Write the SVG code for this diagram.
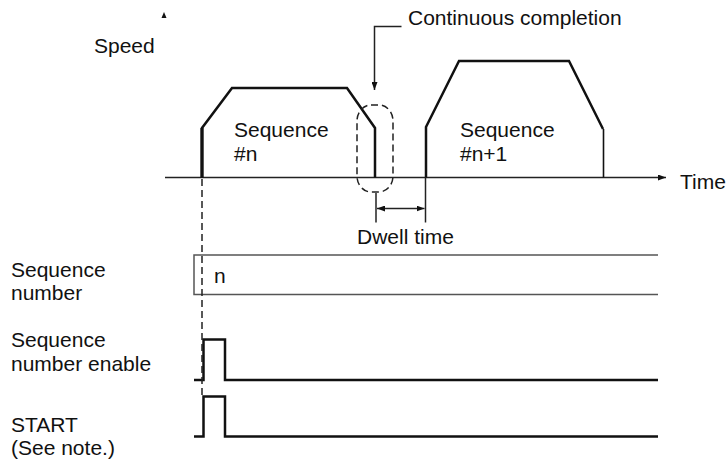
<svg xmlns="http://www.w3.org/2000/svg" width="727" height="459" viewBox="0 0 727 459">
<style>
text{font-family:"Liberation Sans",Arial,sans-serif;font-size:21px;fill:#111}
.thin{stroke:#222;stroke-width:1.5;fill:none}
.prof{stroke:#111;stroke-width:2.5;fill:none;stroke-linejoin:miter}
.sig{stroke:#111;stroke-width:2.5;fill:none}
.dash{stroke:#222;stroke-width:1.5;fill:none;stroke-dasharray:7,4}
.box{stroke:#555;stroke-width:1.5;fill:none}
</style>
<defs>
<marker id="ah" markerWidth="8" markerHeight="6" refX="8" refY="3" orient="auto" markerUnits="userSpaceOnUse">
<path d="M0,0 L8,3 L0,6 z" fill="#111"/>
</marker>
</defs>
<g id="labels">
<text x="94" y="52.5">Speed</text>
<text x="408" y="25">Continuous completion</text>
<text x="680" y="188.5">Time</text>
<text x="357" y="244">Dwell time</text>
<text x="11" y="277">Sequence</text>
<text x="11" y="300">number</text>
<text x="11" y="347">Sequence</text>
<text x="11" y="371">number enable</text>
<text x="11" y="432">START</text>
<text x="11" y="455">(See note.)</text>
</g>
<g id="axes">
<polygon points="164,12 161.5,18 166.5,18" fill="#111"/>
<line class="thin" x1="165" y1="177.5" x2="666" y2="177.5" marker-end="url(#ah)"/>
</g>
<g id="seq-n">
<path class="prof" d="M202,177.5 V128 L232,88 H347 L375,128 V177.5"/>
<line x1="202" y1="177.5" x2="202" y2="128" stroke="#111" stroke-width="3.2"/>
<text x="234" y="137">Sequence</text>
<text x="234" y="161">#n</text>
</g>
<g id="seq-n1">
<path class="prof" d="M426,177.5 V127 L459,61 H569 L603,129"/>
<line x1="603.5" y1="129" x2="603.5" y2="177.5" stroke="#111" stroke-width="1.6"/>
<text x="460" y="137">Sequence</text>
<text x="460" y="161">#n+1</text>
</g>
<g id="continuous-completion">
<rect class="dash" x="357" y="105" width="36" height="87" rx="14" ry="16"/>
</g>
<g id="seq-number">
<path class="box" d="M658,255 H194 V294.5 H658"/>
<text x="214" y="283">n</text>
</g>
<g id="seq-enable">
<path class="sig" d="M194,380 H203.5 V339.5 H225 V380 H658"/>
</g>
<g id="start">
<path class="sig" d="M194,436.5 H203.5 V396.5 H225 V436.5 H658"/>
</g>
<g id="connectors">
<path class="thin" d="M401.5,26.5 H374.5 V90" marker-end="url(#ah)"/>
<line class="dash" x1="202" y1="179" x2="202" y2="398"/>
<line class="thin" x1="376" y1="193" x2="376" y2="222.5"/>
<line class="thin" x1="425.5" y1="177.5" x2="425.5" y2="222.5"/>
<line class="thin" x1="400" y1="208.5" x2="377" y2="208.5" marker-end="url(#ah)"/>
<line class="thin" x1="400" y1="208.5" x2="424.5" y2="208.5" marker-end="url(#ah)"/>
</g>
</svg>
